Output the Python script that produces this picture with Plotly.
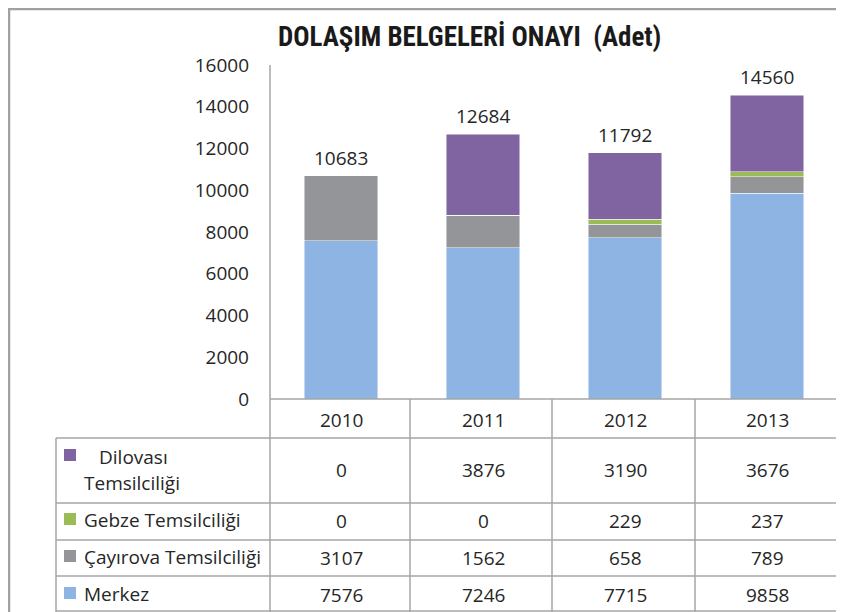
import plotly.graph_objects as go

years = ["2010", "2011", "2012", "2013"]
merkez = [7576, 7246, 7715, 9858]
cayirova = [3107, 1562, 658, 789]
gebze = [0, 0, 229, 237]
dilovasi = [0, 3876, 3190, 3676]
totals = [10683, 12684, 11792, 14560]

series_names = ["Merkez", "Çayırova Temsilciliği", "Gebze Temsilciliği", "Dilovası Temsilciliği"]
series_vals = [merkez, cayirova, gebze, dilovasi]
colors = ["#8DB4E2", "#939598", "#9BBB59", "#8064A2"]

title_text = "DOLAŞIM BELGELERİ ONAYI  (Adet)"
yticks = [0, 2000, 4000, 6000, 8000, 10000, 12000, 14000, 16000]

W, H = 844, 612
OFF = 8  # page body margin
def px(x): return (x - OFF) / W
def py(y): return 1 - (y - OFF) / H

FONT = "Open Sans, Liberation Sans, Arial, sans-serif"
FS = 19
TXT = "#262626"
LINE = "#A6A6A6"

fig = go.Figure()
for name, vals, col in zip(series_names, series_vals, colors):
    fig.add_trace(go.Bar(x=years, y=vals, name=name,
                         marker=dict(color=col, line=dict(color="rgba(255,255,255,0.6)", width=0.8)),
                         width=0.52, showlegend=False, hoverinfo="skip"))

shapes = []
def hline(y, x0, x1, w=1.5, c=LINE):
    shapes.append(dict(type="line", xref="paper", yref="paper", x0=px(x0), x1=px(x1), y0=py(y), y1=py(y), line=dict(color=c, width=w)))
def vline(x, y0, y1, w=1.5, c=LINE):
    shapes.append(dict(type="line", xref="paper", yref="paper", x0=px(x), x1=px(x), y0=py(y0), y1=py(y1), line=dict(color=c, width=w)))

# outer chart border (top edge clipped to the page)
hline(OFF + 1, 9, 852, 2.5, "#A0A0A0")
vline(9, OFF, 620, 2.5, "#A0A0A0")
# axis line and data table grid
vline(270, 65, 620)
for x in [410, 552, 695, 838]:
    vline(x, 399, 620)
vline(56, 438, 620)
hline(399, 270, 838)
for y in [438, 503, 540, 576]:
    hline(y, 56, 838)
hline(611, 56, 838)

annotations = []
# totals above bars
for i, t in enumerate(totals):
    annotations.append(dict(x=i, xref="x", y=t, yref="y", text=str(t), showarrow=False, yshift=18,
                            font=dict(family=FONT, size=FS, color=TXT), xanchor="center", yanchor="middle"))
# header row
for i, yr in enumerate(years):
    annotations.append(dict(x=i, xref="x", y=py(420), yref="paper", text=yr, showarrow=False,
                            font=dict(family=FONT, size=FS, color=TXT), xanchor="center", yanchor="middle"))

row_centers = {"Dilovası Temsilciliği": 470, "Gebze Temsilciliği": 521, "Çayırova Temsilciliği": 558, "Merkez": 595}
square_y = {"Dilovası Temsilciliği": 455, "Gebze Temsilciliği": 519, "Çayırova Temsilciliği": 556, "Merkez": 593}
for name, vals, col in zip(series_names, series_vals, colors):
    yc = row_centers[name]
    for i, v in enumerate(vals):
        annotations.append(dict(x=i, xref="x", y=py(yc), yref="paper", text=str(v), showarrow=False,
                                font=dict(family=FONT, size=FS, color=TXT), xanchor="center", yanchor="middle"))
    sy = square_y[name]
    shapes.append(dict(type="rect", xref="paper", yref="paper", x0=px(64), x1=px(76), y0=py(sy + 6), y1=py(sy - 6),
                       fillcolor=col, line=dict(width=0)))
    if name == "Dilovası Temsilciliği":
        parts = name.split(" ")
        annotations.append(dict(x=px(97), xref="paper", y=py(457), yref="paper", text=parts[0], showarrow=False,
                                font=dict(family=FONT, size=FS, color=TXT), xanchor="left", yanchor="middle"))
        annotations.append(dict(x=px(82), xref="paper", y=py(483), yref="paper", text=parts[1], showarrow=False,
                                font=dict(family=FONT, size=FS, color=TXT), xanchor="left", yanchor="middle"))
    else:
        annotations.append(dict(x=px(82), xref="paper", y=py(yc - 1), yref="paper", text=name, showarrow=False,
                                font=dict(family=FONT, size=FS, color=TXT), xanchor="left", yanchor="middle"))

annotations.append(dict(x=px(469), xref="paper", y=py(37), yref="paper", text="<b>" + title_text + "</b>", showarrow=False,
                        font=dict(family="Liberation Sans Narrow, Roboto Condensed, Arial Narrow, sans-serif", size=27, color="#1a1a1a"),
                        xanchor="center", yanchor="middle"))

fig.update_layout(
    width=W, height=H, margin=dict(l=0, r=0, t=0, b=0, pad=0, autoexpand=False),
    paper_bgcolor="white", plot_bgcolor="white",
    barmode="stack", bargap=0.48,
    shapes=shapes, annotations=annotations,
    xaxis=dict(type="category", domain=[px(270), px(838)], range=[-0.5, 3.5], showticklabels=False, showgrid=False,
               zeroline=False, showline=False, ticks="", fixedrange=True, automargin=False),
    yaxis=dict(domain=[py(399), py(65)], range=[0, 16000], tickvals=yticks, ticktext=[str(t) for t in yticks],
               showgrid=False, zeroline=False, showline=False, ticks="", ticklabelstandoff=20, automargin=False,
               tickfont=dict(family=FONT, size=FS, color=TXT), fixedrange=True),
)

fig.write_html("out.html")
